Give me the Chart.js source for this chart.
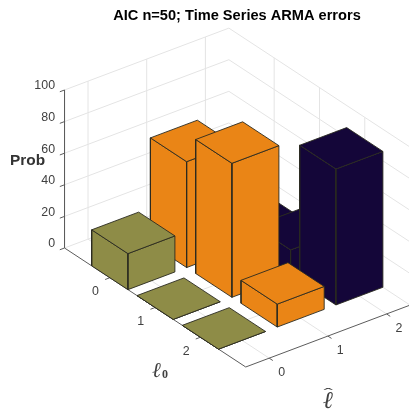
<!DOCTYPE html>
<html>
<head>
<meta charset="utf-8">
<title>AIC n=50</title>
<script src="https://cdn.jsdelivr.net/npm/chart.js@4"></script>
<style>
body { margin: 0; background: #fff; }
canvas { display: block; }
</style>
</head>
<body>
<canvas id="chartCanvas" width="409" height="413"></canvas>
<script>
// Categories and tick labels
const l0Cats = [0, 1, 2];
const lhatCats = [0, 1, 2];
const probTicks = [0, 20, 40, 60, 80, 100];

// Prob values, one list per lhat column, ordered by l0
const probLhat0 = [22.8, 0, 0];
const probLhat1 = [67, 84.8, 14.5];
const probLhat2 = [10, 16, 86];

const seriesValues = [probLhat0, probLhat1, probLhat2];
const seriesColors = ['#8e8c47', '#ea8516', '#140639'];

const titleText = 'AIC n=50; Time Series ARMA errors';
const zLabel = 'Prob';

// Axis box limits, bar width
const l0Lim = [-1, 3];
const lhatLim = [-0.4, 2.4];
const barHalf = 0.4;

// Orthographic view of the 3D box, mapped into the x/y scales
function project(l0, lhat, prob) {
    return {
        x: 133.3 + 45.3 * l0 + 58.7 * lhat,
        y: 268.9 + 29.75 * l0 - 22.1 * lhat - 1.58 * prob
    };
}

function lineSet(points, color, width) {
    return {
        data: points,
        showLine: true,
        fill: false,
        borderColor: color,
        borderWidth: width,
        pointRadius: 0,
        tension: 0
    };
}

function faceSet(points, color) {
    return {
        data: points.concat([points[0]]),
        showLine: true,
        fill: 'shape',
        backgroundColor: color,
        borderColor: '#2a2a20',
        borderWidth: 0.9,
        borderJoinStyle: 'round',
        pointRadius: 0,
        tension: 0
    };
}

// Datasets in back to front order, reversed before handing to the chart
const sets = [];
const gridColor = '#e4e4e4';
const axisColor = '#5c5c5c';

// walls and floor grid
probTicks.forEach(function(p) {
    sets.push(lineSet([project(l0Lim[0], lhatLim[0], p), project(l0Lim[0], lhatLim[1], p), project(l0Lim[1], lhatLim[1], p)], gridColor, 1));
});
lhatCats.forEach(function(c) {
    sets.push(lineSet([project(l0Lim[1], c, 0), project(l0Lim[0], c, 0), project(l0Lim[0], c, 100)], gridColor, 1));
});
l0Cats.forEach(function(c) {
    sets.push(lineSet([project(c, lhatLim[0], 0), project(c, lhatLim[1], 0), project(c, lhatLim[1], 100)], gridColor, 1));
});

// axis lines and ticks
sets.push(lineSet([project(l0Lim[0], lhatLim[0], 100), project(l0Lim[0], lhatLim[0], 0), project(l0Lim[1], lhatLim[0], 0), project(l0Lim[1], lhatLim[1], 0)], axisColor, 1));
probTicks.forEach(function(p) {
    sets.push(lineSet([project(l0Lim[0], lhatLim[0], p), project(l0Lim[0], lhatLim[0] - 0.08, p)], axisColor, 1));
});
l0Cats.forEach(function(c) {
    sets.push(lineSet([project(c, lhatLim[0], 0), project(c, lhatLim[0] - 0.08, 0)], axisColor, 1));
});
lhatCats.forEach(function(c) {
    sets.push(lineSet([project(l0Lim[1], c, 0), project(l0Lim[1] + 0.08, c, 0)], axisColor, 1));
});

// bars, far ones first
const bars = [];
lhatCats.forEach(function(lh, j) {
    l0Cats.forEach(function(l0, i) {
        bars.push({ l0: l0, lh: lh, prob: seriesValues[j][i], color: seriesColors[j] });
    });
});
bars.sort(function(a, b) { return (a.l0 - a.lh) - (b.l0 - b.lh); });
bars.forEach(function(b) {
    const a0 = b.l0 - barHalf, a1 = b.l0 + barHalf;
    const c0 = b.lh - barHalf, c1 = b.lh + barHalf;
    sets.push(faceSet([project(a0, c0, 0), project(a1, c0, 0), project(a1, c0, b.prob), project(a0, c0, b.prob)], b.color));
    sets.push(faceSet([project(a1, c0, 0), project(a1, c1, 0), project(a1, c1, b.prob), project(a1, c0, b.prob)], b.color));
    sets.push(faceSet([project(a0, c0, b.prob), project(a1, c0, b.prob), project(a1, c1, b.prob), project(a0, c1, b.prob)], b.color));
});

// Text goes on top, placed from the same scales
const textPlugin = {
    id: 'textPlugin',
    afterDraw: function(chart) {
        const ctx = chart.ctx;
        const sx = chart.scales.x, sy = chart.scales.y;
        const tickColor = '#404040';
        function put(p, dx, dy, text) {
            ctx.fillText(text, sx.getPixelForValue(p.x) + dx, sy.getPixelForValue(p.y) + dy);
        }
        ctx.save();
        ctx.textBaseline = 'middle';

        ctx.fillStyle = '#000';
        ctx.font = 'bold 14.6px "Liberation Sans"';
        ctx.textAlign = 'center';
        ctx.fillText(titleText, 237, 16);

        ctx.fillStyle = tickColor;
        ctx.font = '12.4px "Liberation Sans"';
        ctx.textAlign = 'right';
        probTicks.forEach(function(p) {
            put(project(l0Lim[0], lhatLim[0], p), -9.5, -4, String(p));
        });
        ctx.textAlign = 'center';
        l0Cats.forEach(function(c) {
            put(project(c, lhatLim[0], 0), -14.3, 14, String(c));
        });
        lhatCats.forEach(function(c) {
            put(project(l0Lim[1], c, 0), 12.4, 14.5, String(c));
        });

        ctx.fillStyle = '#333';
        ctx.font = 'bold 15.4px "Liberation Sans"';
        ctx.textAlign = 'left';
        ctx.fillText(zLabel, 10, 161);

        // axis names
        ctx.fillStyle = '#404040';
        ctx.font = 'italic 21px "Liberation Serif"';
        ctx.fillText('ℓ', 152, 371);
        ctx.font = 'bold 12px "Liberation Serif"';
        ctx.fillText('0', 162, 375);
        ctx.font = 'italic 24px "Liberation Serif"';
        ctx.fillText('ℓ', 323, 402);

        // hat is wide and flat in the reference
        ctx.save();
        ctx.translate(323.5, 394);
        ctx.scale(1.4, 0.7);
        ctx.font = '20px "Liberation Serif"';
        ctx.fillText('ˆ', 0, 0);
        ctx.restore();

        ctx.restore();
    }
};

new Chart(document.getElementById('chartCanvas'), {
    type: 'scatter',
    data: { datasets: sets.reverse() },
    options: {
        responsive: false,
        animation: false,
        layout: { padding: 0 },
        plugins: {
            legend: { display: false },
            title: { display: false },
            tooltip: { enabled: false }
        },
        scales: {
            x: { type: 'linear', display: false, min: 0, max: 409 },
            y: { type: 'linear', display: false, min: 0, max: 413, reverse: true }
        }
    },
    plugins: [textPlugin]
});
</script>
</body>
</html>
